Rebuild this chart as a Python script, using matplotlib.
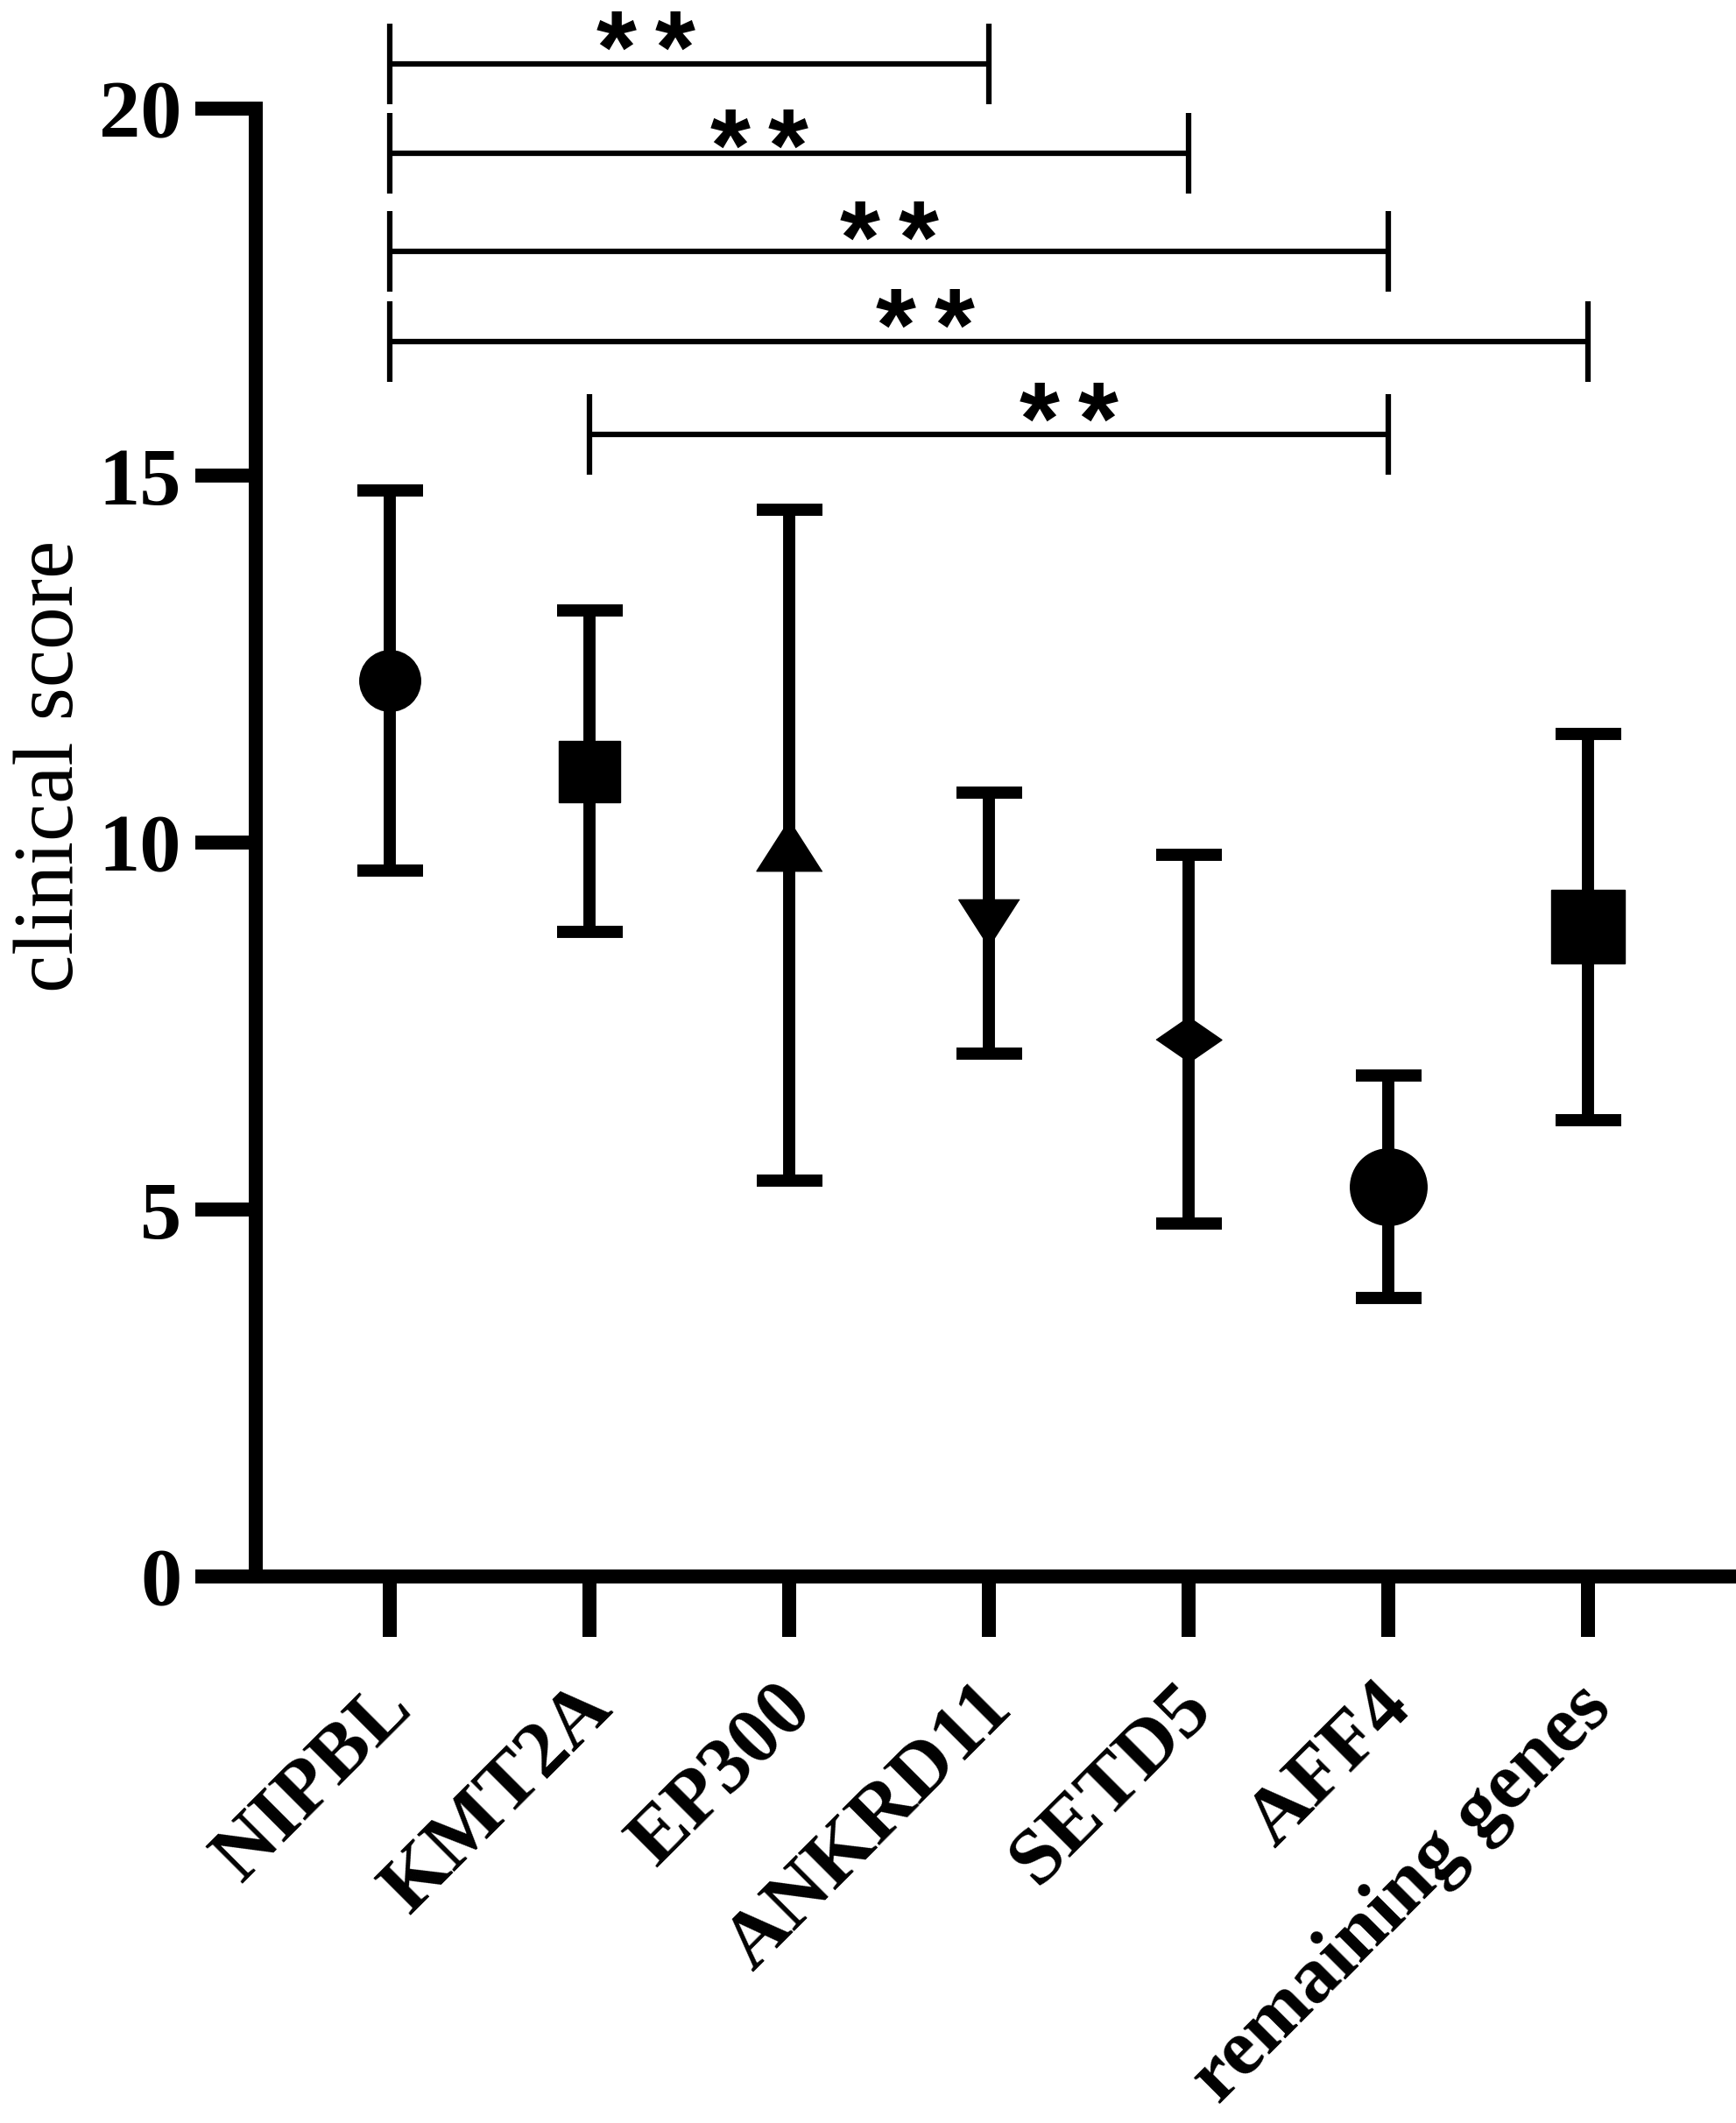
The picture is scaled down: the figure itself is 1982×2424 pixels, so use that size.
import matplotlib
matplotlib.use("Agg")
import matplotlib.pyplot as plt
from matplotlib.transforms import ScaledTranslation

genes = ["NIPBL", "KMT2A", "EP300", "ANKRD11", "SETD5", "AFF4", "remaining genes"]
means = [12.21, 10.97, 9.96, 8.90, 7.32, 5.31, 8.85]
sds = [2.59, 2.19, 4.57, 1.78, 2.51, 1.52, 2.63]

# significance brackets between groups
sig_from = [0, 0, 0, 0, 1]
sig_to = [3, 4, 5, 6, 5]
sig_y = [20.61, 19.39, 18.06, 16.83, 15.56]
star_x = [1.28, 1.85, 2.50, 2.68, 3.40]
star_y = [20.98, 19.65, 18.39, 17.20, 15.92]

yticks = [0, 5, 10, 15, 20]

tri_up = [(0, 0.78), (-1, -0.78), (1, -0.78)]
tri_down = [(0, -0.78), (-1, 0.78), (1, 0.78)]
diamond = [(-1, 0), (0, 0.69), (1, 0), (0, -0.69)]
markers = ["o", "s", tri_up, tri_down, diamond, "o", "s"]
msizes = [50, 50, 54, 50, 54, 63, 61]

plt.rcParams["font.family"] = ["Liberation Serif", "DejaVu Serif"]

fig = plt.figure(figsize=(19.83, 24.24), dpi=100)
ax = fig.add_axes([0.1473, 0.2574, 0.8487, 0.6914])

for i, (m, s) in enumerate(zip(means, sds)):
    ax.errorbar(i, m, yerr=s, fmt="none", ecolor="black", elinewidth=10,
                capsize=27, capthick=10, zorder=2)
    ax.plot(i, m, marker=markers[i], ms=msizes[i], color="black",
            linestyle="none", zorder=3)

# brackets
tick_h = 0.55
for a, b, y in zip(sig_from, sig_to, sig_y):
    ax.plot([a, b], [y, y], color="black", lw=4.5, clip_on=False,
            solid_capstyle="butt")
    for xe in (a, b):
        ax.plot([xe, xe], [y - tick_h, y + tick_h], color="black", lw=4.5,
                clip_on=False, solid_capstyle="butt")

fs_star = 85
for sx, sy in zip(star_x, star_y):
    for dx in (-24, 24):
        ax.annotate("*", (sx, sy), xytext=(dx, -0.45 * fs_star),
                    textcoords="offset points", ha="center", va="baseline",
                    fontsize=fs_star, family="Liberation Sans",
                    fontweight="bold", annotation_clip=False)

ax.set_xlim(-0.67, 6.71)
ax.set_ylim(0, 20)
ax.set_yticks(yticks)
ax.set_xticks(range(len(genes)))
ax.set_xticklabels(genes, rotation=45, ha="right", rotation_mode="anchor",
                   fontsize=66, fontweight="bold")
ax.set_yticklabels([str(t) for t in yticks], fontsize=68, fontweight="bold")

for side in ("top", "right"):
    ax.spines[side].set_visible(False)
for side in ("left", "bottom"):
    ax.spines[side].set_linewidth(11.5)
ax.spines["left"].set_bounds(0, 20)

ax.tick_params(axis="both", direction="out", length=50, width=11.5)
ax.tick_params(axis="y", pad=11)
ax.tick_params(axis="x", pad=28)

offset = ScaledTranslation(-0.16, 0, fig.dpi_scale_trans)
for lab in ax.get_xticklabels():
    lab.set_transform(lab.get_transform() + offset)

ax.set_ylabel("clinical score", fontsize=70)
ax.yaxis.set_label_coords(-0.112, 0.552)

fig.savefig("out.png", dpi=100, facecolor="white")
